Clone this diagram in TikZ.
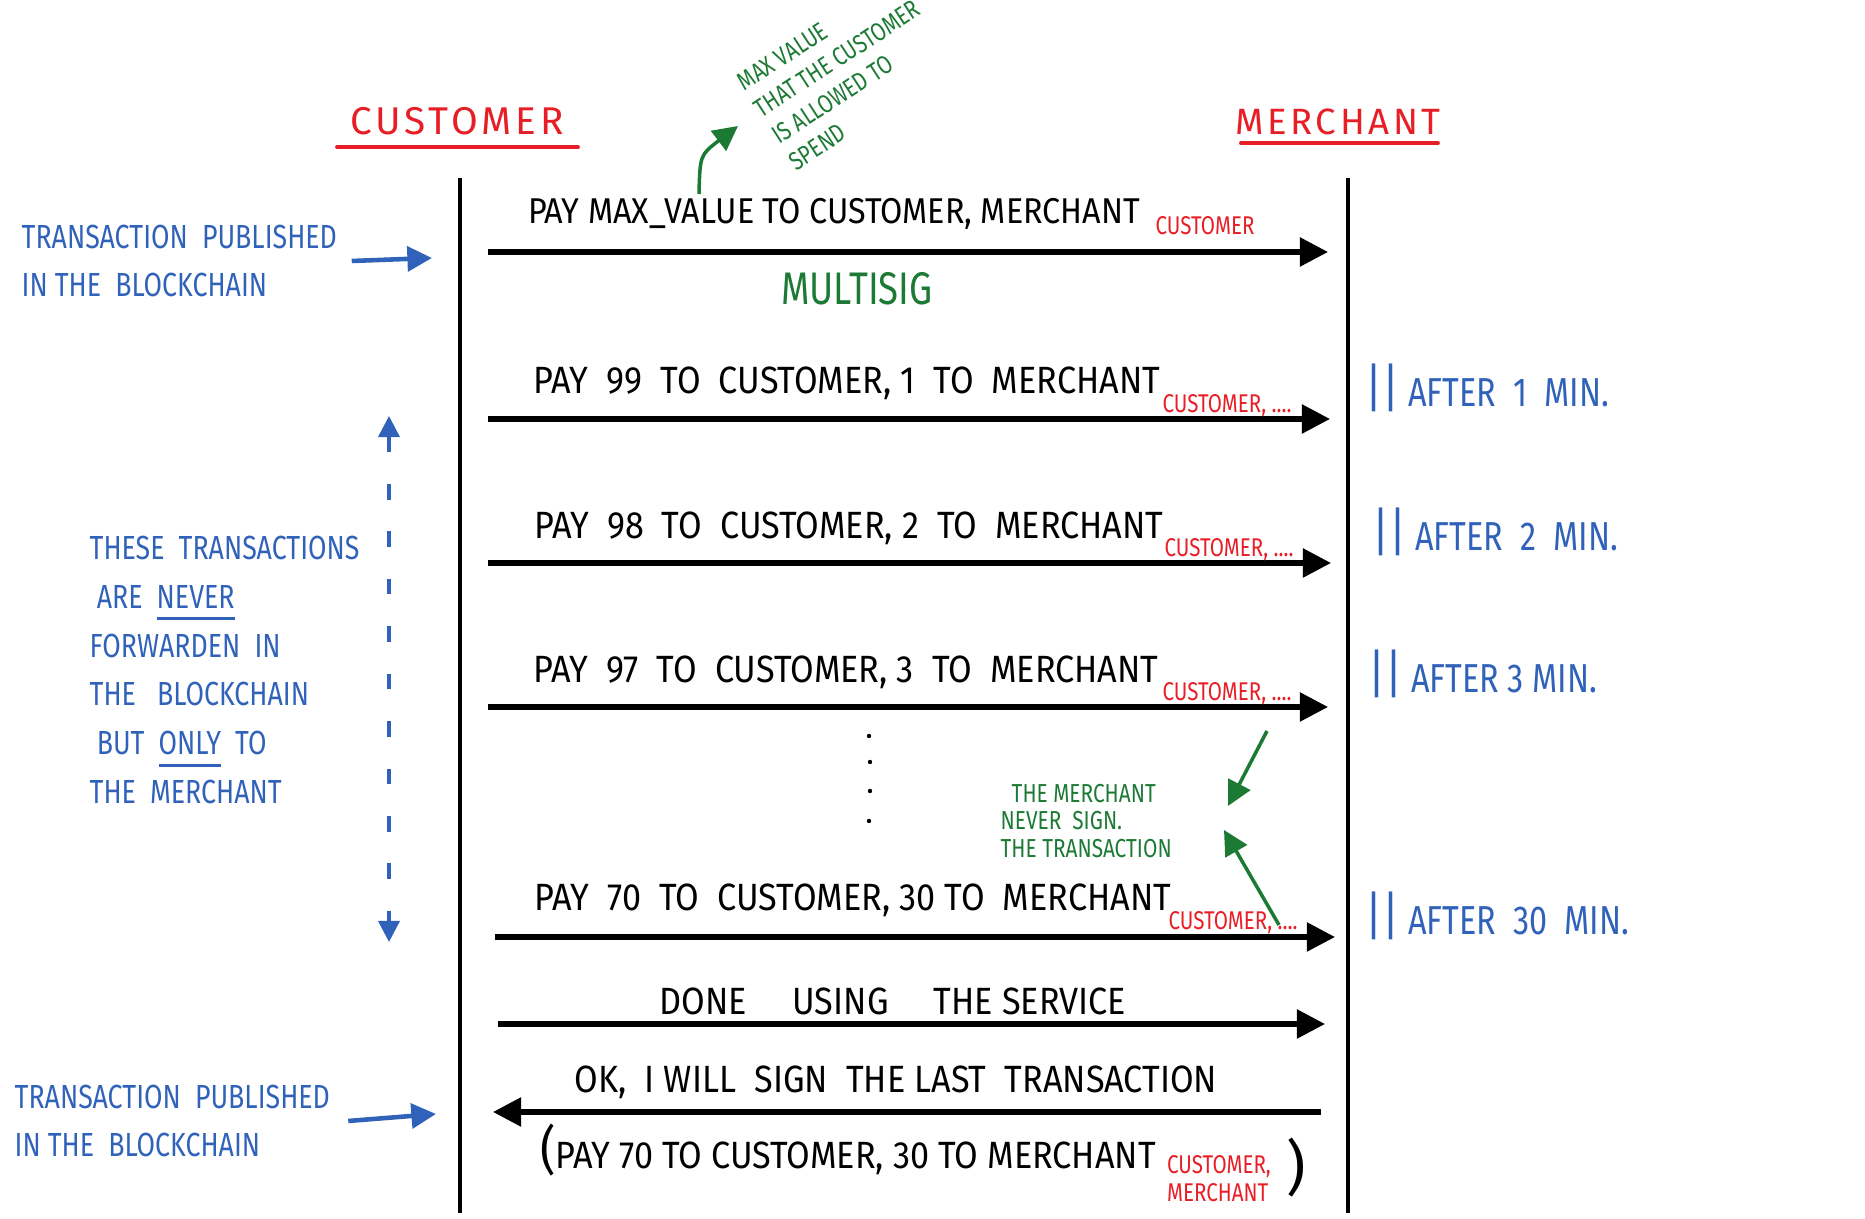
\documentclass[tikz,border=0pt]{standalone}
\usepackage{fontspec}
\setmainfont{Fira Sans}
\newfontfamily\handfont[FakeStretch=0.8]{Fira Sans}
\newfontfamily\widehand[FakeStretch=0.9]{Fira Sans}
\newfontfamily\titlefont[LetterSpace=10]{Fira Sans}
\usepackage{xcolor}
\newcommand\handul[1]{\leavevmode\vtop{\hbox{#1}\kern2.5pt\hrule height 0.9pt}}
\usetikzlibrary{arrows.meta,positioning}
\definecolor{inkred}{RGB}{232,30,38}
\definecolor{inkblue}{RGB}{48,98,186}
\definecolor{inkgreen}{RGB}{28,122,52}

\begin{document}
\begin{tikzpicture}[x=0.01cm,y=-0.01cm,
  life/.style={line width=0.9pt},
  msg/.style={line width=1.5pt,-{Triangle[length=8pt,width=8pt]}},
  title/.style={font=\titlefont\fontsize{11}{13}\selectfont,text=inkred,inner sep=0pt},
  uline/.style={draw=inkred,line width=1.1pt,line cap=round},
  lbl/.style={font=\widehand\fontsize{10.8}{13}\selectfont,inner sep=0pt},
  sig/.style={font=\handfont\fontsize{7.3}{8}\selectfont,text=inkred,inner sep=0pt,align=left},
  note/.style={font=\handfont\fontsize{9.5}{13.9}\selectfont,text=inkblue,inner sep=0pt,align=left},
  timer/.style={font=\handfont\fontsize{11.5}{13}\selectfont,text=inkblue,inner sep=0pt,anchor=west},
  gnote/.style={font=\handfont\fontsize{7.4}{7.8}\selectfont,text=inkgreen,inner sep=0pt,align=left},
  barr/.style={draw=inkblue,line width=1.3pt,-{Triangle[length=7pt,width=7pt]}},
  garr/.style={draw=inkgreen,line width=1pt,-{Triangle[length=7pt,width=7pt]}}]
  \useasboundingbox (0,0) rectangle (1865,1219);

  % lifelines
  \node[title] (cust) at (457,121) {CUSTOMER};
  \node[title,font=\titlefont\fontsize{10.4}{13}\selectfont] (merch) at (1338,122) {MERCHANT};
  \draw[uline] (337,147) -- (578,147);
  \draw[uline] (1241,143) -- (1438,143);
  \coordinate (custtop) at (460,178);
  \coordinate (custbot) at (460,1213);
  \coordinate (merchtop) at (1348,178);
  \coordinate (merchbot) at (1348,1213);
  \draw[life] (custtop) -- (custbot);
  \draw[life] (merchtop) -- (merchbot);

  % funding transaction
  \coordinate (m1s) at (488,252);
  \coordinate (m1e) at (1328,252);
  \draw[msg] (m1s) -- (m1e);
  \node[lbl,font=\widehand\fontsize{10.2}{13}\selectfont] (fund) at (834,214) {PAY MAX\_VALUE TO CUSTOMER, MERCHANT};
  \node[sig] (fundsig) at (1205,226) {CUSTOMER};
  \node[font=\handfont\fontsize{13}{15}\selectfont,text=inkgreen,inner sep=0pt] (multisig) at (857,289) {MULTISIG};

  \node[gnote,font=\handfont\fontsize{7.3}{9}\selectfont,rotate=33] (maxnote) at (846,72) {MAX VALUE\\THAT THE CUSTOMER\\IS ALLOWED TO\\SPEND};
  \coordinate (maxfrom) at (699,194);
  \coordinate (maxto) at (738,126);
  \draw[garr] (maxfrom) .. controls (700,155) .. (maxto);

  \node[note,anchor=west] (pubtop) at (21,261) {TRANSACTION \ PUBLISHED\\IN THE \ BLOCKCHAIN};
  \coordinate (pubtopend) at (432,258);
  \draw[barr] ([xshift=4pt]pubtop.east) -- (pubtopend);

  % payment updates
  \coordinate (m2s) at (488,419);
  \coordinate (m2e) at (1330,419);
  \draw[msg] (m2s) -- (m2e);
  \node[lbl] (pay1) at (847,383) {PAY \ 99 \ TO \ CUSTOMER, 1 \ TO \ MERCHANT};
  \node[sig] (pay1sig) at (1227,406) {CUSTOMER, ....};
  \node[timer] (after1) at (1365,388) {{\fontsize{15}{15}\selectfont||} AFTER \ 1 \ MIN.};

  \coordinate (m3s) at (488,563);
  \coordinate (m3e) at (1331,563);
  \draw[msg] (m3s) -- (m3e);
  \node[lbl] (pay2) at (849,528) {PAY \ 98 \ TO \ CUSTOMER, 2 \ TO \ MERCHANT};
  \node[sig] (pay2sig) at (1229,550) {CUSTOMER, ....};
  \node[timer] (after2) at (1372,532) {{\fontsize{15}{15}\selectfont||} AFTER \ 2 \ MIN.};

  \coordinate (m4s) at (488,707);
  \coordinate (m4e) at (1328,707);
  \draw[msg] (m4s) -- (m4e);
  \node[lbl] (pay3) at (846,672) {PAY \ 97 \ TO \ CUSTOMER, 3 \ TO \ MERCHANT};
  \node[sig] (pay3sig) at (1227,694) {CUSTOMER, ....};
  \node[timer] (after3) at (1368,674) {{\fontsize{15}{15}\selectfont||} AFTER 3 MIN.};

  \fill (869,736) circle (2.2);
  \fill (870,762) circle (2.2);
  \fill (870,791) circle (2.2);
  \fill (869,821) circle (2.2);

  \coordinate (m5s) at (495,937);
  \coordinate (m5e) at (1335,937);
  \draw[msg] (m5s) -- (m5e);
  \node[lbl] (pay30) at (853,900) {PAY \ 70 \ TO \ CUSTOMER, 30 TO \ MERCHANT};
  \node[sig] (pay30sig) at (1233,923) {CUSTOMER, ....};
  \node[timer] (after30) at (1365,916) {{\fontsize{15}{15}\selectfont||} AFTER \ 30 \ MIN.};

  \node[gnote,anchor=west] (nosign) at (1000,821) {\ \ THE MERCHANT\\NEVER \ SIGN.\\THE TRANSACTION};
  \coordinate (ns1s) at (1267,731);
  \coordinate (ns1e) at (1228,806);
  \coordinate (ns2s) at (1279,925);
  \coordinate (ns2e) at (1224,830);
  \draw[garr] (ns1s) -- (ns1e);
  \draw[garr] (ns2s) -- (ns2e);

  % off-chain note
  \coordinate (dtop) at (389,416);
  \coordinate (dbot) at (389,942);
  \draw[draw=inkblue,line width=1pt,dash pattern=on 4.5pt off 9pt,
    {Triangle[length=6pt,width=6pt]}-{Triangle[length=6pt,width=6pt]}] (dtop) -- (dbot);
  \node[note,anchor=west] (offchain) at (89,670) {THESE \ TRANSACTIONS\\
    \ ARE \ \handul{NEVER}\\FORWARDEN \ IN\\THE \ \ BLOCKCHAIN\\
    \ BUT \ \handul{ONLY} \ TO\\THE \ MERCHANT};

  % closing
  \coordinate (m6s) at (498,1024);
  \coordinate (m6e) at (1325,1024);
  \draw[msg] (m6s) -- (m6e);
  \node[lbl] (done) at (893,1001) {DONE \ \ \ \ USING \ \ \ \ THE SERVICE};

  \coordinate (m7s) at (1321,1112);
  \coordinate (m7e) at (493,1112);
  \draw[msg] (m7s) -- (m7e);
  \node[lbl] (oksign) at (896,1082) {OK, \ I WILL \ SIGN \ THE LAST \ TRANSACTION};
  \node[lbl] (final) at (848,1150) {{\fontsize{15}{15}\selectfont(}PAY 70 TO CUSTOMER, 30 TO MERCHANT};
  \node[sig] (finalsig) at (1219,1179) {CUSTOMER,\\MERCHANT};
  \node[font=\fontsize{17}{17}\selectfont,inner sep=0pt] (close) at (1296,1168) {)};

  \node[note,anchor=west] (pubbot) at (14,1121) {TRANSACTION \ PUBLISHED\\IN THE \ BLOCKCHAIN};
  \coordinate (pubbotend) at (436,1114);
  \draw[barr] ([xshift=5pt]pubbot.east) -- (pubbotend);
\end{tikzpicture}
\end{document}
